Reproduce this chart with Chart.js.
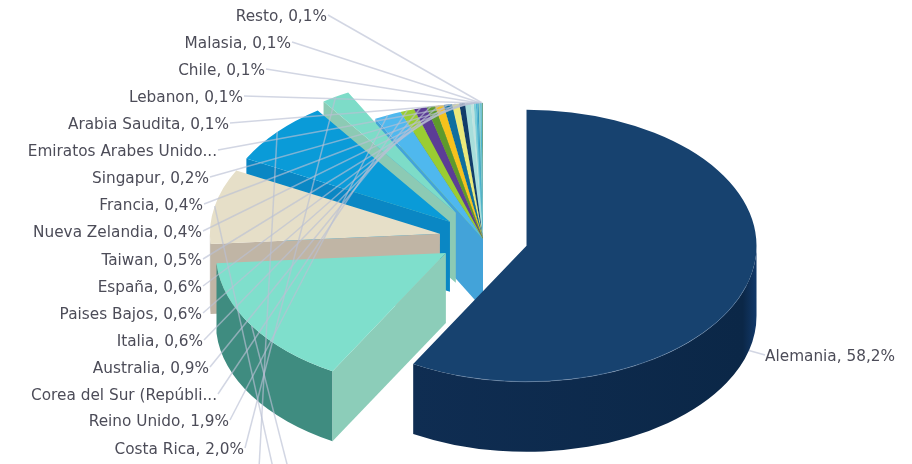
<!DOCTYPE html>
<html>
<head>
<meta charset="utf-8">
<style>
  html, body { margin: 0; background: #fff; }
  canvas { display: block; filter: blur(0.4px); }
</style>
<script src="https://cdn.jsdelivr.net/npm/chart.js@4"></script>
</head>
<body>
<canvas id="pieChart" width="912" height="464"></canvas>
<script>
// the three big slices have their labels cut off at the bottom of the picture
const categories = ['Alemania', '', '', '', 'Costa Rica', 'Reino Unido', 'Corea del Sur (Repúbli...', 'Australia', 'Italia',
  'Paises Bajos', 'España', 'Taiwan', 'Nueva Zelandia', 'Francia', 'Singapur', 'Emiratos Arabes Unido...',
  'Arabia Saudita', 'Lebanon', 'Chile', 'Malasia', 'Resto'];
const shares = [58.2, 15.6, 8.9, 7.55, 2.0, 1.9, 1.0, 0.9, 0.6, 0.6, 0.6, 0.5, 0.4, 0.4, 0.2, 0.15, 0.1, 0.1, 0.1, 0.1, 0.1];
const topColors = ['#17426f', '#7fdfcc', '#e6dfc8', '#0a9bd8', '#7ddcc8', '#4fb8ee', '#9acd32', '#5c3d96', '#5e9a2c',
  '#f6c21c', '#0e6f9f', '#ebe97a', '#123d6a', '#a8dedb', '#bfe3df', '#7fcfd8', '#4bb5d3', '#3a9fc0', '#8fd0c8', '#4bb5d3', '#6ba88f'];
const faceColors = ['#0e2c50', '#8ccdb9', '#c0b5a5', '#0a87c4', '#8ccab4', '#43a3d9'];
const wallColors = ['#0d2b4e', '#3f8c80', '#a09a90', '#0a87c4', '#8ccab4', '#43a3d9'];
const explodeBy = [45, 44, 44, 44, 52];

const squash = 136 / 230;
const depth = 70;
const lineColor = 'rgba(186, 192, 212, 0.65)';

// where each label's line ends: x of the label edge, y of the row
const labelEdgeX = [765, 287, 272, 258, 244, 229, 217, 209, 203, 202, 202, 202, 202, 203, 209, 217, 229, 243, 265, 291, 327];
const labelY = [357, 470, 470, 470, 450, 422, 396, 369, 342, 315, 288, 261, 233, 206, 179, 152, 125, 98, 71, 44, 17];

function formatShare(v) {
  return v.toFixed(1).replace('.', ',') + '%';
}

const pie3d = {
  id: 'pie3d',
  afterDatasetsUpdate(chart) {
    const area = chart.chartArea;
    const cx = (area.left + area.right) / 2;
    const cy = (area.top + area.bottom) / 2;
    chart.getDatasetMeta(0).data.forEach((arc, i) => {
      const mid = (arc.startAngle + arc.endAngle) / 2;
      const push = explodeBy[i] || 0;
      arc.x = cx + Math.cos(mid) * push;
      arc.y = cy + Math.sin(mid) * push;
    });
  },
  beforeDatasetDraw(chart) {
    const ctx = chart.ctx;
    const arcs = chart.getDatasetMeta(0).data;
    const area = chart.chartArea;
    const cy = (area.top + area.bottom) / 2;
    // back to front: the small slices first, Alemania last
    for (let i = arcs.length - 1; i >= 0; i--) {
      drawWalls(ctx, arcs[i], i, cy);
      ctx.save();
      ctx.translate(0, cy);
      ctx.scale(1, squash);
      ctx.translate(0, -cy);
      arcs[i].draw(ctx);
      ctx.restore();
    }
    drawRimLight(ctx, arcs[0], cy);
    return false;
  },
  afterDatasetsDraw(chart) {
    const ctx = chart.ctx;
    const arcs = chart.getDatasetMeta(0).data;
    const area = chart.chartArea;
    const cy = (area.top + area.bottom) / 2;
    ctx.save();
    ctx.lineWidth = 1.5;
    ctx.strokeStyle = lineColor;
    arcs.forEach((arc, i) => {
      const mid = (arc.startAngle + arc.endAngle) / 2;
      const rim = rimPoint(arc, mid, cy);
      ctx.beginPath();
      ctx.moveTo(rim.x, rim.y + (i === 0 ? depth : 0));
      ctx.lineTo(labelEdgeX[i] + (i === 0 ? 0 : 1), labelY[i] - 2);
      ctx.stroke();
    });
    ctx.font = '15.3px "DejaVu Sans"';
    ctx.fillStyle = '#4c4c58';
    ctx.textBaseline = 'middle';
    arcs.forEach((arc, i) => {
      if (!categories[i]) return;
      const truncated = categories[i].endsWith('...');
      const text = truncated ? categories[i] : categories[i] + ', ' + formatShare(shares[i]);
      ctx.textAlign = i === 0 ? 'left' : 'right';
      ctx.fillText(text, labelEdgeX[i], labelY[i]);
    });
    ctx.restore();
  }
};

function rimPoint(arc, angle, cy) {
  return {
    x: arc.x + Math.cos(angle) * arc.outerRadius,
    y: cy + (arc.y - cy) * squash + Math.sin(angle) * arc.outerRadius * squash
  };
}

function drawWalls(ctx, arc, i, cy) {
  const tipX = arc.x;
  const tipY = cy + (arc.y - cy) * squash;
  const r = arc.outerRadius;
  const s = arc.startAngle;
  const e = arc.endAngle;
  const face = faceColors[i] || topColors[i];
  let wall = wallColors[i] || topColors[i];
  if (i === 0) {
    wall = ctx.createLinearGradient(tipX - r * 0.5, 0, tipX + r, 0);
    wall.addColorStop(0, '#0f2d52');
    wall.addColorStop(0.96, '#0b2747');
    wall.addColorStop(1, '#12396a');
  }

  const from = Math.max(s, 0);
  const to = Math.min(e, Math.PI);
  if (from < to) {
    ctx.fillStyle = wall;
    ctx.beginPath();
    ctx.ellipse(tipX, tipY, r, r * squash, 0, from, to);
    ctx.ellipse(tipX, tipY + depth, r, r * squash, 0, to, from, true);
    ctx.closePath();
    ctx.fill();
  }
  ctx.fillStyle = face;
  [[s, Math.cos(s) < -0.001], [e, Math.cos(e) > 0.001]].forEach(([angle, visible]) => {
    if (!visible) return;
    const p = rimPoint(arc, angle, cy);
    ctx.beginPath();
    ctx.moveTo(tipX, tipY);
    ctx.lineTo(p.x, p.y);
    ctx.lineTo(p.x, p.y + depth);
    ctx.lineTo(tipX, tipY + depth);
    ctx.closePath();
    ctx.fill();
  });
}

// faint light along the front rim of the big slice
function drawRimLight(ctx, arc, cy) {
  const tipY = cy + (arc.y - cy) * squash;
  const r = arc.outerRadius;
  ctx.save();
  ctx.strokeStyle = 'rgba(150, 175, 205, 0.35)';
  ctx.lineWidth = 1;
  ctx.beginPath();
  ctx.ellipse(arc.x, tipY, r, r * squash, 0, 0.3, Math.PI * 0.6);
  ctx.stroke();
  ctx.restore();
}

new Chart(document.getElementById('pieChart'), {
  type: 'pie',
  data: {
    labels: categories,
    datasets: [{
      data: shares,
      backgroundColor: topColors,
      borderWidth: 0,
      radius: 230
    }]
  },
  options: {
    responsive: false,
    animation: false,
    events: [],
    layout: { padding: { left: 54, top: 14 } },
    plugins: {
      legend: { display: false },
      tooltip: { enabled: false }
    }
  },
  plugins: [pie3d]
});
</script>
</body>
</html>
